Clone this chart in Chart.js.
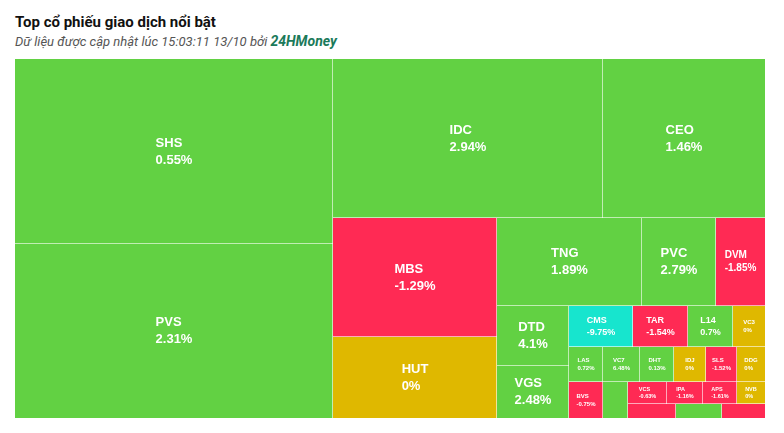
<!DOCTYPE html>
<html><head><meta charset="utf-8">
<script src="https://cdn.jsdelivr.net/npm/chart.js@4.4.0/dist/chart.umd.min.js"></script>
<style>
html,body{margin:0;padding:0;background:#fff;width:784px;height:433px;overflow:hidden}
#title{position:absolute;left:15px;top:15px;font:bold 15px/15px Roboto,sans-serif;color:#111;white-space:nowrap}
#sub{position:absolute;left:15px;top:35px;font:italic 13px/13px Roboto,sans-serif;color:#555;white-space:nowrap}
#sub b{color:#1b7a5a;font-size:14px}
#wrap{position:absolute;left:15px;top:59px;width:750px;height:359px}
</style></head><body>
<div id="title">Top cổ phiếu giao dịch nổi bật</div>
<div id="sub">Dữ liệu được cập nhật lúc 15:03:11 13/10 bởi <b>24HMoney</b></div>
<div id="wrap"><canvas id="c" width="750" height="359"></canvas></div>
<script>
// Tickers in the order the source delivers them
const tickers = ['SHS','PVS','IDC','CEO','MBS','HUT','TNG','PVC','DVM','DTD','VGS',
  'CMS','TAR','L14','VC3','LAS','BVS','VC7','DHT','IDJ','SLS','DDG','',
  'VCS','IPA','APS','NVB','','','',''];
// Relative trading value (cell area weight)
const values = [58830,55332,42930,25758,19516,13284,12760,6512,4312,4320,3744,
  2624,2255,1845,1312,1190,1224,1295,1190,1120,1085,980,900,
  858,792,748,616,1,672,644,602];
// Price change, %
const changes = [0.55,2.31,2.94,1.46,-1.29,0,1.89,2.79,-1.85,4.1,2.48,
  -9.75,-1.54,0.7,0,0.72,-0.75,6.48,0.13,0,-1.52,0,0.5,
  -0.63,-1.16,-1.61,0,0,-1.2,0.6,-1.5];

const COLORS = {up:'#62D143', down:'#FF2A54', flat:'#DFB800', floor:'#17E5CE'};
function colorFor(c){ if(c<=-9.5) return COLORS.floor; if(c>0) return COLORS.up; if(c<0) return COLORS.down; return COLORS.flat; }

// Squarified layout with alternating direction (column first)
function squarified(vals, area){
  const total = vals.reduce((a,b)=>a+b,0);
  const out = [];
  const plot = {x:area.x, y:area.y};
  const g = {width:area.width, height:area.height, dir:0, total:0, nW:0, lW:0, nH:0, lH:0, el:[], lR:NaN, nR:NaN};
  const ar = (w,h)=>Math.max(w/h,h/w);
  function add(el){
    const lp = g.el[g.el.length-1];
    g.total += el;
    if(g.dir===0){ g.lW=g.nW; g.lR=ar(g.lW, lp/g.lW); g.nW=g.total/g.height; g.nR=ar(g.nW, lp/g.nW); }
    else { g.lH=g.nH; g.lR=ar(lp/g.lH, g.lH); g.nH=g.total/g.width; g.nR=ar(lp/g.nH, g.nH); }
    g.el.push(el);
  }
  function calc(last){
    let gW=g.lW, gH=g.lH, keep;
    if(last){ gW=g.nW; gH=g.nH; } else keep=g.el[g.el.length-1];
    const end=g.el.length-1;
    g.el.forEach((p,i)=>{
      if(last || i<end){
        let w,h;
        if(g.dir===0){ w=gW; h=p/w; } else { h=gH; w=p/h; }
        out.push({x:plot.x, y:plot.y, w, h});
        if(g.dir===0) plot.y+=h; else plot.x+=w;
      }
    });
    g.nW=0; g.lW=0; g.el=[]; g.total=0;
    if(g.dir===0) g.width-=gW; else g.height-=gH;
    plot.y = area.y + (area.height-g.height);
    plot.x = area.x + (area.width-g.width);
    g.dir = 1-g.dir;
    if(!last) add(keep);
  }
  vals.forEach((v,i)=>{
    add(area.width*area.height*v/total);
    if(g.nR > g.lR) calc(false);
    if(i===vals.length-1) calc(true);
  });
  return out;
}

function fontSizeFor(w,h){
  const m=Math.min(w,h);
  if(m>=50) return 13;
  if(m>=45) return 10;
  if(m>=40) return 9;
  if(m>=35) return 7;
  if(m>=25) return 6;
  return 5.5;
}

const treemapPlugin = {
  id:'treemap',
  afterDatasetsDraw(chart){
    const {ctx, scales:{x, y}} = chart;
    const ds = chart.data.datasets[0];
    const left=x.getPixelForValue(x.min), right=x.getPixelForValue(x.max);
    const top=y.getPixelForValue(y.max), bottom=y.getPixelForValue(y.min);
    const rects = squarified(ds.data, {x:left, y:top, width:right-left, height:bottom-top});
    ctx.save();
    rects.forEach((r,i)=>{
      if(r.w<0.5 || r.h<0.5) return;
      const x0=Math.round(r.x), y0=Math.round(r.y), x1=Math.round(r.x+r.w), y1=Math.round(r.y+r.h);
      ctx.fillStyle=colorFor(ds.changes[i]);
      ctx.fillRect(x0,y0,x1-x0,y1-y0);
      ctx.fillStyle='rgba(255,255,255,0.6)';
      if(x1<right-0.5) ctx.fillRect(x1-1,y0,2,y1-y0);
      if(y1<bottom-0.5) ctx.fillRect(x0,y1-1,x1-x0,2);
    });
    rects.forEach((r,i)=>{
      const name=ds.tickers[i];
      if(!name || r.w<26 || r.h<18) return;
      const fs=fontSizeFor(r.w,r.h);
      const l1=name, l2=ds.changes[i]+'%';
      ctx.font='bold '+fs+'px "Liberation Sans", Arial, sans-serif';
      const bw=Math.max(ctx.measureText(l1).width, ctx.measureText(l2).width);
      const cx=r.x+r.w/2, cy=r.y+r.h/2, lh=fs*1.3;
      ctx.fillStyle='#ffffff';
      ctx.textBaseline='middle';
      ctx.textAlign='left';
      ctx.fillText(l1, cx-bw/2, cy-lh/2);
      ctx.fillText(l2, cx-bw/2, cy+lh/2);
    });
    ctx.restore();
  }
};

new Chart(document.getElementById('c'), {
  type:'scatter',
  data:{datasets:[{label:'Giá trị giao dịch', data:values, tickers, changes, pointRadius:0, showLine:false, parsing:false}]},
  options:{
    responsive:false, animation:false, devicePixelRatio:1,
    layout:{padding:0},
    plugins:{legend:{display:false}, tooltip:{enabled:false}},
    scales:{x:{type:'linear', min:0, max:1, display:false}, y:{type:'linear', min:0, max:1, display:false}}
  },
  plugins:[treemapPlugin]
});
</script>
</body></html>
